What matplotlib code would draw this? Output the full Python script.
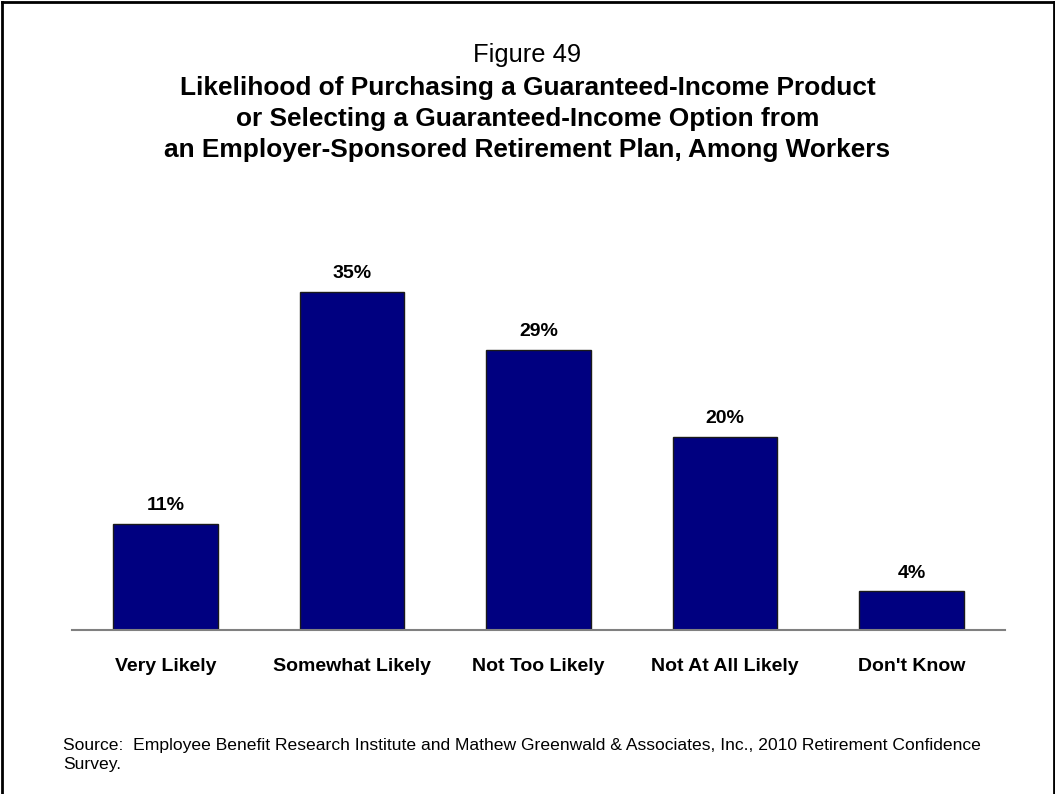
import matplotlib.pyplot as plt
from matplotlib.lines import Line2D

plt.rcParams['font.family'] = ['Liberation Sans', 'DejaVu Sans']

categories = ['Very Likely', 'Somewhat Likely', 'Not Too Likely', 'Not At All Likely', "Don't Know"]
values = [11, 35, 29, 20, 4]
value_labels = ['11%', '35%', '29%', '20%', '4%']

fig = plt.figure(figsize=(10.55, 7.94), dpi=100)
ax = fig.add_axes([0.0682, 0.2065, 0.8844, 0.4867])

x = range(len(categories))
ax.bar(x, values, width=0.56, color='#000080', edgecolor='#1a1a1a', linewidth=1)

for xi, v, lab in zip(x, values, value_labels):
    ax.text(xi, v + 1.0, lab, ha='center', va='bottom', fontsize=14, fontweight='bold')

ax.set_xlim(-0.5, 4.5)
ax.set_ylim(0, 40)
ax.set_xticks(list(x))
ax.set_xticklabels(categories, fontsize=14, fontweight='bold')
ax.tick_params(axis='x', length=0, pad=20)
ax.set_yticks([])
for side in ['top', 'right', 'left']:
    ax.spines[side].set_visible(False)
ax.spines['bottom'].set_color('#808080')
ax.spines['bottom'].set_linewidth(1.5)

# title block
fig.text(0.5, 1 - 55 / 794, 'Figure 49', ha='center', va='center', fontsize=18.4)
title_lines = ['Likelihood of Purchasing a Guaranteed-Income Product',
               'or Selecting a Guaranteed-Income Option from',
               'an Employer-Sponsored Retirement Plan, Among Workers']
for i, line in enumerate(title_lines):
    fig.text(0.5, 1 - (88 + 31 * i) / 794, line, ha='center', va='center',
             fontsize=18.9, fontweight='bold')

fig.text(63 / 1055, 1 - 755 / 794,
         'Source:  Employee Benefit Research Institute and Mathew Greenwald & Associates, Inc., 2010 Retirement Confidence\nSurvey.',
         ha='left', va='center', fontsize=12.6, linespacing=1.4)

# frame around the figure (no bottom edge)
for xs, ys in [([1.5 / 1055, 1.5 / 1055], [0, 1 - 1.5 / 794]),
               ([1.5 / 1055, 1 - 1.5 / 1055], [1 - 1.5 / 794, 1 - 1.5 / 794]),
               ([1 - 1.5 / 1055, 1 - 1.5 / 1055], [0, 1 - 1.5 / 794])]:
    fig.add_artist(Line2D(xs, ys, color='black', linewidth=2, transform=fig.transFigure))

fig.savefig('out.png', dpi=100)
